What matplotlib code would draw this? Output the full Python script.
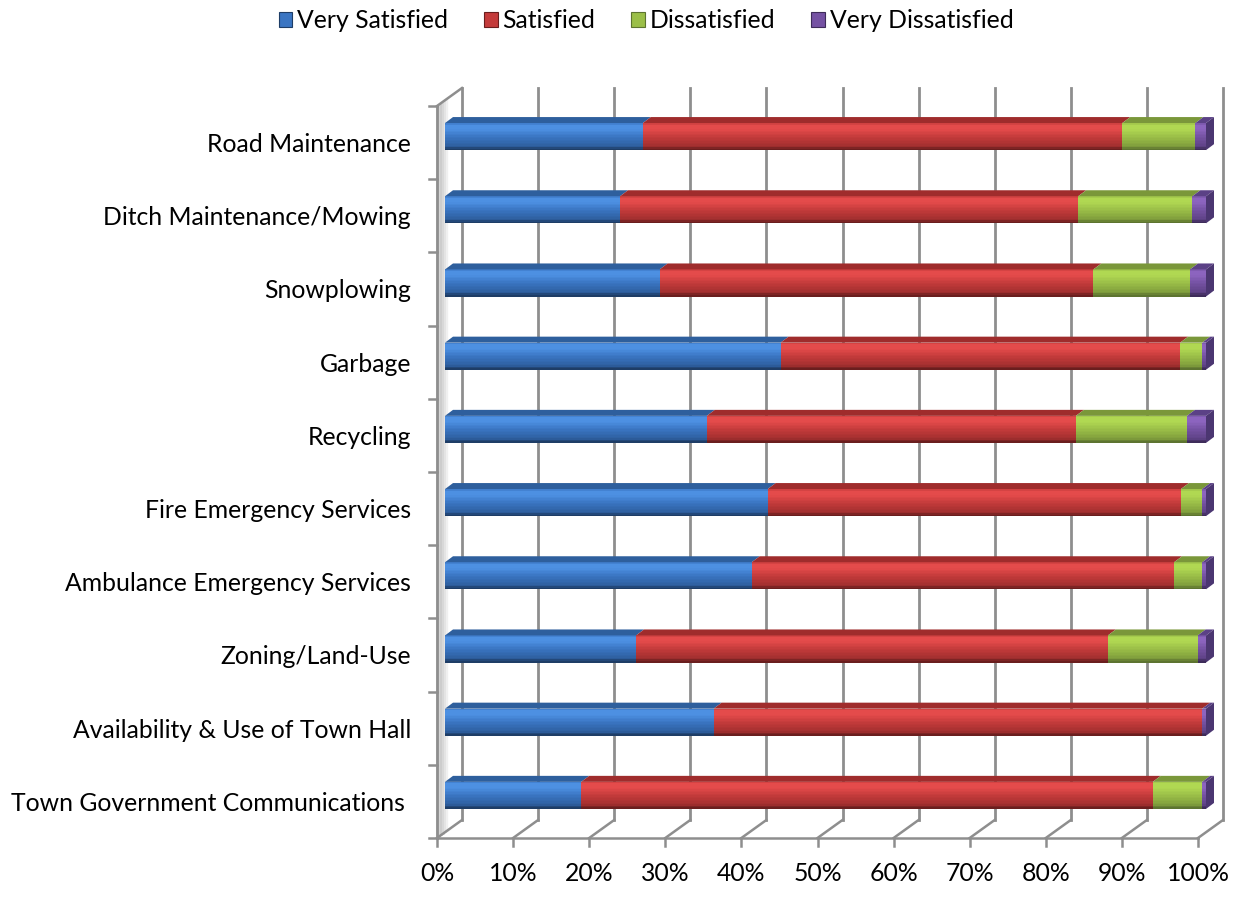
import matplotlib
matplotlib.use("Agg")
import matplotlib.pyplot as plt
from matplotlib.patches import Polygon, Patch
from matplotlib.transforms import ScaledTranslation, IdentityTransform
from matplotlib.colors import to_rgb
import numpy as np

# ---------------- data ----------------
categories = ["Road Maintenance", "Ditch Maintenance/Mowing", "Snowplowing", "Garbage",
              "Recycling", "Fire Emergency Services", "Ambulance Emergency Services",
              "Zoning/Land-Use", "Availability & Use of Town Hall",
              "Town Government Communications "]
very_satisfied = [26.0, 23.0, 28.2, 44.1, 34.4, 42.4, 40.3, 25.1, 35.3, 17.9]
satisfied = [63.0, 60.2, 57.0, 52.5, 48.5, 54.3, 55.5, 62.0, 64.2, 75.1]
dissatisfied = [9.6, 15.0, 12.7, 2.9, 14.6, 2.8, 3.7, 11.8, 0.0, 6.5]
very_dissatisfied = [1.4, 1.8, 2.1, 0.5, 2.5, 0.5, 0.5, 1.1, 0.5, 0.5]
series_names = ["Very Satisfied", "Satisfied", "Dissatisfied", "Very Dissatisfied"]
x_ticks = [0, 10, 20, 30, 40, 50, 60, 70, 80, 90, 100]
x_tick_labels = ["0%", "10%", "20%", "30%", "40%", "50%", "60%", "70%", "80%", "90%", "100%"]

# ---------------- styles ----------------
FONT = "Lato"
FS = 17.8
plt.rcParams["font.family"] = [FONT, "DejaVu Sans"]
face_styles = [  # light, base, dark, edge, top, end
    ("#4d90e2", "#3a75c2", "#2e5f9f", "#1e3d66", "#2e5f9d", "#244d80"),
    ("#e44b4b", "#c43b3b", "#a22f2f", "#6a1e1e", "#9f2c2c", "#7c2222"),
    ("#b0d852", "#9bbf48", "#809e3c", "#5d7430", "#7a973a", "#5f772c"),
    ("#8c64bf", "#7552a3", "#5f4287", "#3e2c5a", "#5b4186", "#4b3671"),
]
GRID = "#8e8e8e"
W, H = 1236, 898
DPI = 100

fig = plt.figure(figsize=(W / DPI, H / DPI), dpi=DPI)
# bar plane in pixels
bx0, bx1 = 445, 1206
by0, by1 = 100, 832
ax = fig.add_axes([bx0 / W, 1 - by1 / H, (bx1 - bx0) / W, (by1 - by0) / H])
ax.set_xlim(0, 100)
n = len(categories)
ax.set_ylim(n - 0.5, -0.5)
ax.axis("off")

FRONT = (-8, -6)   # display-pixel offset of front plane from bar plane
BACK = (17, 12)    # display-pixel offset of back plane from bar plane


def off(dx, dy):
    return ax.transData + ScaledTranslation(dx / DPI, dy / DPI, fig.dpi_scale_trans)


tf_front = off(*FRONT)
tf_back = off(*BACK)
y_top, y_bot = -0.5, n - 0.5

# ---------- left wall shading ----------
for k in range(14):
    f = k / 13
    dx = FRONT[0] + (BACK[0] - FRONT[0]) * f
    dy = FRONT[1] + (BACK[1] - FRONT[1]) * f
    shade = 0.80 + 0.2 * min(1, abs(f - 0.15) * 3.0)
    ax.plot([0, 0], [y_top, y_bot], color=(shade, shade, shade), lw=2.2,
            transform=off(dx, dy), clip_on=False, zorder=0.5, solid_capstyle="butt")

# ---------- back gridlines & floor ----------
for p, lab in zip(x_ticks, x_tick_labels):
    ax.plot([p, p], [y_top, y_bot], color=GRID, lw=2, transform=tf_back,
            clip_on=False, zorder=1)
    a = tf_front.transform((p, y_bot))
    b = tf_back.transform((p, y_bot))
    ax.plot([a[0], b[0]], [a[1], b[1]], color=GRID, lw=1.8,
            transform=IdentityTransform(), clip_on=False, zorder=1)
    ax.plot([a[0], a[0]], [a[1], a[1] - 8], color=GRID, lw=1.8,
            transform=IdentityTransform(), clip_on=False, zorder=1)
    ax.text(a[0], a[1] - 36, lab, ha="center", va="center",
            fontsize=FS, color="black", transform=IdentityTransform())

# front floor line and front axis line
ax.plot([0, 100], [y_bot, y_bot], color=GRID, lw=1.8, transform=tf_front, clip_on=False, zorder=1)
ax.plot([0, 0], [y_top, y_bot], color=GRID, lw=2, transform=tf_front, clip_on=False, zorder=1)
a = tf_front.transform((0, y_top))
b = tf_back.transform((0, y_top))
ax.plot([a[0], b[0]], [a[1], b[1]], color=GRID, lw=1.8, transform=IdentityTransform(),
        clip_on=False, zorder=1)
for k in range(n + 1):
    a = tf_front.transform((0, k - 0.5))
    ax.plot([a[0] - 8, a[0]], [a[1], a[1]], color=GRID, lw=1.8,
            transform=IdentityTransform(), clip_on=False, zorder=1)

# category labels
for i, c in enumerate(categories):
    a = tf_front.transform((0, i))
    ax.text(a[0] - 26, a[1] - 2, c, ha="right", va="center", fontsize=FS,
            color="black", transform=IdentityTransform())

# ---------- bars ----------
values = [very_satisfied, satisfied, dissatisfied, very_dissatisfied]
y = np.arange(n)
bar_h = 0.37
left = np.zeros(n)
prof_pos = [0.0, 0.07, 0.22, 0.5, 0.85, 0.95, 1.0]


def shade_at(style, t):
    light, base, dark, edge = [np.array(to_rgb(c)) for c in style[:4]]
    cols = [base * 0.85 + light * 0.15, light, light, base, dark, edge, edge]
    for j in range(len(prof_pos) - 1):
        if prof_pos[j] <= t <= prof_pos[j + 1]:
            f = (t - prof_pos[j]) / max(prof_pos[j + 1] - prof_pos[j], 1e-9)
            return tuple(cols[j] * (1 - f) + cols[j + 1] * f)
    return tuple(cols[-1])


NS = 18
DEPTH = (8, 6)
for s, (vals, name, st) in enumerate(zip(values, series_names, face_styles)):
    vals = np.array(vals)
    ax.barh(y, vals, left=left, height=bar_h, color=st[1], label=name, zorder=3, lw=0)
    for k in range(NS):
        t = (k + 0.5) / NS
        ax.barh(y - bar_h / 2 + (k + 0.5) * bar_h / NS, vals, left=left,
                height=bar_h / NS * 1.08, color=shade_at(st, t), zorder=3.1, lw=0)
    for i in range(n):
        if vals[i] <= 0:
            continue
        p0 = ax.transData.transform((left[i], y[i] - bar_h / 2))
        p1 = ax.transData.transform((left[i] + vals[i], y[i] - bar_h / 2))
        poly = Polygon([p0, p1, p1 + DEPTH, p0 + DEPTH], closed=True,
                       facecolor=st[4], edgecolor="none", transform=IdentityTransform(),
                       zorder=3.2, clip_on=False)
        ax.add_patch(poly)
    left = left + vals

# end faces (colour of the last non-zero segment)
for i in range(n):
    last = max(s for s in range(4) if values[s][i] > 0)
    pt = ax.transData.transform((left[i], y[i] - bar_h / 2))
    pb = ax.transData.transform((left[i], y[i] + bar_h / 2))
    poly = Polygon([pb, pt, pt + DEPTH, pb + DEPTH], closed=True,
                   facecolor=face_styles[last][5], edgecolor="none",
                   transform=IdentityTransform(), zorder=3.3, clip_on=False)
    ax.add_patch(poly)

# ---------- legend ----------
handles = [Patch(facecolor=st[1], edgecolor=st[3], lw=0.8) for st in face_styles]
fig.legend(handles, series_names, loc="center", bbox_to_anchor=(646 / W, 1 - 21 / H),
           ncol=4, frameon=False, fontsize=FS, handlelength=0.55, handleheight=0.55,
           handletextpad=0.2, columnspacing=1.45, borderaxespad=0)

fig.savefig("out.png", dpi=DPI, facecolor="white")
